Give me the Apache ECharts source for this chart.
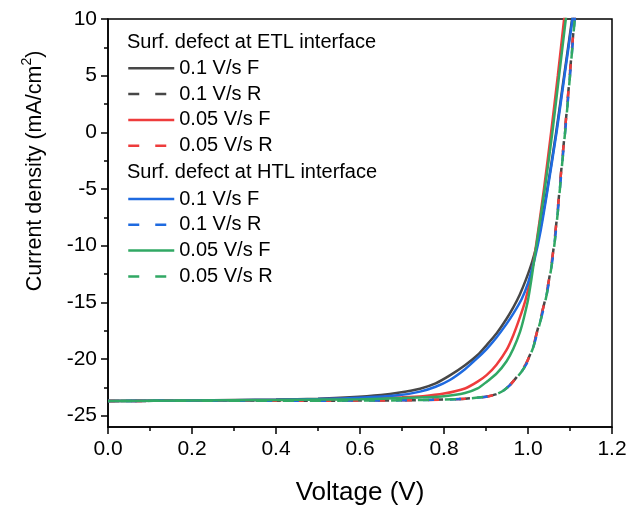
<!DOCTYPE html>
<html>
<head>
<meta charset="utf-8">
<script src="https://cdn.jsdelivr.net/npm/echarts@6/dist/echarts.min.js"></script>
<style>
  html, body { margin: 0; padding: 0; background: #fff; }
  #chart { width: 630px; height: 512px; }
</style>
</head>
<body>
<div id="chart"></div>
<script>
// J-V sweeps (voltage in V, current density in mA/cm^2)
const etlFastFwdV = [0, 0.2, 0.4, 0.5, 0.576, 0.65, 0.695, 0.743, 0.78, 0.814, 0.85, 0.88, 0.902, 0.925, 0.949, 0.965, 0.98, 0.995, 1.01, 1.025, 1.04, 1.055, 1.067, 1.086, 1.105, 1.108];
const etlFastFwdJ = [-23.70, -23.66, -23.58, -23.50, -23.38, -23.18, -22.96, -22.62, -22.15, -21.45, -20.55, -19.65, -18.75, -17.75, -16.45, -15.45, -14.35, -13.00, -11.40, -9.30, -6.30, -2.90, 0.00, 5.00, 10.00, 10.80];

const etlSlowFwdV = [0, 0.2, 0.4, 0.5, 0.6, 0.7, 0.75, 0.8, 0.85, 0.88, 0.902, 0.925, 0.949, 0.965, 0.98, 0.994, 1.005, 1.016, 1.038, 1.055, 1.071, 1.086, 1.089];
const etlSlowFwdJ = [-23.70, -23.67, -23.61, -23.56, -23.50, -23.38, -23.28, -23.05, -22.60, -22.00, -21.40, -20.50, -19.20, -17.90, -16.40, -14.80, -13.10, -10.80, -5.00, 0.00, 5.00, 10.00, 11.00];

const htlFastFwdV = [0, 0.2, 0.4, 0.5, 0.6, 0.695, 0.743, 0.78, 0.814, 0.85, 0.88, 0.902, 0.925, 0.949, 0.965, 0.985, 1.0, 1.015, 1.03, 1.046, 1.068, 1.087, 1.106, 1.109];
const htlFastFwdJ = [-23.70, -23.67, -23.60, -23.54, -23.42, -23.18, -22.88, -22.45, -21.85, -20.90, -19.90, -19.10, -18.10, -16.90, -16.00, -14.70, -13.30, -11.30, -8.70, -5.20, 0.00, 5.00, 10.00, 10.80];

const htlSlowFwdV = [0, 0.2, 0.4, 0.5, 0.6, 0.7, 0.75, 0.8, 0.85, 0.88, 0.902, 0.925, 0.949, 0.965, 0.981, 0.99, 1.0, 1.008, 1.017, 1.04, 1.058, 1.074, 1.09, 1.093];
const htlSlowFwdJ = [-23.70, -23.67, -23.62, -23.58, -23.55, -23.45, -23.38, -23.28, -23.00, -22.60, -22.00, -21.30, -20.20, -19.10, -17.60, -16.40, -14.80, -13.00, -10.70, -5.00, 0.00, 5.00, 10.00, 11.00];

// reverse sweeps share one voltage grid
const revV = [0, 0.2, 0.4, 0.6, 0.7, 0.8, 0.85, 0.9, 0.925, 0.941, 0.957, 0.973, 0.985, 0.997, 1.005, 1.013, 1.025, 1.04, 1.05, 1.06, 1.07, 1.081, 1.092, 1.102, 1.112, 1.115];
const etlFastRevJ = [-23.70, -23.69, -23.68, -23.67, -23.65, -23.58, -23.50, -23.33, -23.10, -22.80, -22.30, -21.60, -21.00, -20.30, -19.60, -18.80, -17.10, -14.90, -13.00, -10.50, -7.10, -2.60, 1.80, 6.20, 10.60, 11.90];
const etlSlowRevJ = [-23.70, -23.69, -23.68, -23.67, -23.65, -23.58, -23.50, -23.33, -23.10, -22.80, -22.30, -21.60, -21.00, -20.30, -19.60, -18.80, -17.10, -14.90, -13.00, -10.50, -7.10, -2.60, 1.80, 6.20, 10.60, 11.90];
const htlFastRevJ = [-23.70, -23.69, -23.68, -23.67, -23.65, -23.58, -23.50, -23.33, -23.10, -22.80, -22.30, -21.65, -21.10, -20.40, -19.70, -18.90, -17.30, -15.10, -13.20, -10.80, -7.40, -2.90, 1.50, 5.90, 10.30, 11.60];
const htlSlowRevJ = [-23.70, -23.69, -23.68, -23.67, -23.65, -23.58, -23.50, -23.33, -23.10, -22.80, -22.30, -21.65, -21.10, -20.40, -19.70, -18.90, -17.30, -15.10, -13.20, -10.80, -7.40, -2.90, 1.50, 5.90, 10.30, 11.60];

// axis ticks
const xTicks = [0, 0.2, 0.4, 0.6, 0.8, 1.0, 1.2];
const yTicks = [-25, -20, -15, -10, -5, 0, 5, 10];
const yMinorTicks = [-22.5, -17.5, -12.5, -7.5, -2.5, 2.5, 7.5];

// legend text
const groupTitles = ['Surf. defect at ETL interface', 'Surf. defect at HTL interface'];
const sweepLabels = ['0.1 V/s F', '0.1 V/s R', '0.05 V/s F', '0.05 V/s R'];

const FONT = "'Liberation Sans', Arial, sans-serif";
const GRAY = '#474747', RED = '#ee3c3c', BLUE = '#1e6ae0', GREEN = '#31a864';
const DASH = [11, 16];

function pairs(vs, js) { return vs.map((v, i) => [v, js[i]]); }

const curves = [
  { key: 'ETL', label: sweepLabels[0], v: etlFastFwdV, j: etlFastFwdJ, color: GRAY, dashed: false },
  { key: 'ETL', label: sweepLabels[1], v: revV, j: etlFastRevJ, color: GRAY, dashed: true, offset: 0 },
  { key: 'ETL', label: sweepLabels[2], v: etlSlowFwdV, j: etlSlowFwdJ, color: RED, dashed: false },
  { key: 'ETL', label: sweepLabels[3], v: revV, j: etlSlowRevJ, color: RED, dashed: true, offset: 4 },
  { key: 'HTL', label: sweepLabels[0], v: htlFastFwdV, j: htlFastFwdJ, color: BLUE, dashed: false },
  { key: 'HTL', label: sweepLabels[1], v: revV, j: htlFastRevJ, color: BLUE, dashed: true, offset: 9 },
  { key: 'HTL', label: sweepLabels[2], v: htlSlowFwdV, j: htlSlowFwdJ, color: GREEN, dashed: false },
  { key: 'HTL', label: sweepLabels[3], v: revV, j: htlSlowRevJ, color: GREEN, dashed: true, offset: 14 }
];

const series = curves.map(c => ({
  name: c.key + '|' + c.label,
  type: 'line',
  data: pairs(c.v, c.j),
  showSymbol: false,
  symbol: 'none',
  smooth: 0.25,
  clip: true,
  animation: false,
  lineStyle: {
    color: c.color,
    width: 2.5,
    type: c.dashed ? DASH : 'solid',
    dashOffset: c.dashed ? c.offset : 0
  },
  itemStyle: { color: c.color }
}));

function legendFor(key, top) {
  return {
    show: true,
    orient: 'vertical',
    left: 127,
    top: top,
    padding: 0,
    itemGap: 5.8,
    itemWidth: 46,
    itemHeight: 14,
    selectedMode: false,
    textStyle: { fontFamily: FONT, fontSize: 20, color: '#000', lineHeight: 20 },
    formatter: name => name.split('|')[1],
    data: curves.filter(c => c.key === key).map(c => ({
      name: c.key + '|' + c.label,
      itemStyle: { color: 'rgba(0,0,0,0)', borderWidth: 0, opacity: 0 },
      lineStyle: { color: c.color, width: 2.5, type: c.dashed ? DASH : 'solid', dashOffset: 0 }
    }))
  };
}

const axisText = { fontFamily: FONT, fontSize: 21, color: '#000' };

const option = {
  backgroundColor: '#fff',
  animation: false,
  title: [
    { text: groupTitles[0], left: 127, top: 32, padding: 0,
      textStyle: { fontFamily: FONT, fontSize: 20, fontWeight: 'normal', color: '#000', lineHeight: 20 } },
    { text: groupTitles[1], left: 127, top: 162.5, padding: 0,
      textStyle: { fontFamily: FONT, fontSize: 20, fontWeight: 'normal', color: '#000', lineHeight: 20 } }
  ],
  legend: [legendFor('ETL', 58.3), legendFor('HTL', 189)],
  grid: {
    left: 108, right: 18, top: 19, bottom: 85,
    show: true, borderColor: '#000', borderWidth: 1.5, backgroundColor: 'transparent'
  },
  xAxis: {
    type: 'value',
    min: 0, max: 1.2, interval: 0.2,
    name: 'Voltage (V)',
    nameLocation: 'middle',
    nameGap: 53,
    nameTextStyle: { fontFamily: FONT, fontSize: 26, color: '#000' },
    axisLine: { show: true, onZero: false, lineStyle: { color: '#000', width: 1.5 } },
    axisTick: { show: true, inside: false, length: 7, lineStyle: { color: '#000', width: 1.5 } },
    minorTick: { show: true, splitNumber: 2, length: 4, lineStyle: { color: '#000', width: 1.5 } },
    axisLabel: Object.assign({ margin: 12, formatter: v => v.toFixed(1),
      customValues: xTicks }, axisText),
    splitLine: { show: false },
    minorSplitLine: { show: false }
  },
  yAxis: [
    {
      type: 'value',
      min: -26, max: 10,
      name: '{a|Current density (mA/cm}{b|2}{a|)}',
      nameLocation: 'middle',
      nameGap: 62,
      nameTextStyle: {
        padding: [0, 0, 0, 104],
        rich: {
          a: { fontFamily: FONT, fontSize: 21.5, color: '#000', lineHeight: 26, verticalAlign: 'bottom' },
          b: { fontFamily: FONT, fontSize: 14, color: '#000', lineHeight: 14, verticalAlign: 'top' }
        }
      },
      axisLine: { show: true, onZero: false, lineStyle: { color: '#000', width: 1.5 } },
      axisTick: { show: true, inside: false, length: 7, customValues: yTicks,
        lineStyle: { color: '#000', width: 1.5 } },
      axisLabel: Object.assign({ margin: 11, customValues: yTicks }, axisText),
      splitLine: { show: false }
    },
    {
      type: 'value',
      min: -26, max: 10,
      position: 'left',
      axisLine: { show: false },
      axisTick: { show: true, inside: false, length: 4, customValues: yMinorTicks,
        lineStyle: { color: '#000', width: 1.5 } },
      axisLabel: { show: false },
      splitLine: { show: false }
    }
  ],
  series: series
};

const chart = echarts.init(document.getElementById('chart'), null, { renderer: 'canvas' });
chart.setOption(option);
</script>
</body>
</html>
